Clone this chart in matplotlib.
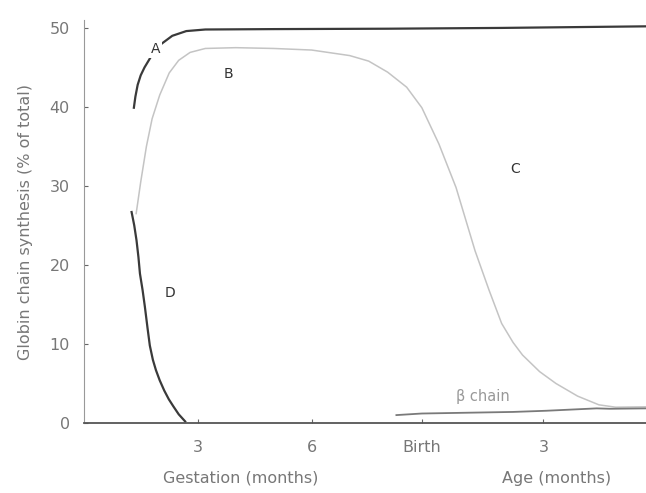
import matplotlib.pyplot as plt

# curve A (dark, top)
a_x = [1.32, 1.36, 1.42, 1.5, 1.6, 1.8, 2.05, 2.33, 2.7, 3.2, 5.0, 8.0, 11.0, 14.8]
a_y = [39.9, 41.3, 42.8, 44.0, 45.0, 46.6, 48.0, 49.0, 49.6, 49.8, 49.85, 49.9, 50.0, 50.2]

# curve B / C (light grey)
b_x = [1.38, 1.5, 1.65, 1.8, 2.0, 2.25, 2.5, 2.8, 3.2, 4.0, 5.0, 6.0, 7.0, 7.5, 8.0,
       8.5, 8.9, 9.35, 9.8, 10.3, 10.67, 11.0, 11.3, 11.55, 12.0, 12.43, 13.0, 13.56, 14.0, 14.8]
b_y = [26.5, 30.5, 35.0, 38.5, 41.5, 44.3, 45.9, 46.9, 47.4, 47.5, 47.4, 47.2, 46.5, 45.8, 44.4,
       42.5, 39.9, 35.3, 29.8, 21.8, 16.8, 12.6, 10.2, 8.6, 6.5, 5.0, 3.4, 2.3, 2.0, 2.05]

# curve D (dark, falling)
d_x = [1.26, 1.33, 1.39, 1.44, 1.48, 1.55, 1.61, 1.68, 1.74, 1.82, 1.9, 2.0, 2.12, 2.24, 2.36, 2.5, 2.67]
d_y = [26.7, 25.0, 23.1, 21.0, 18.9, 16.8, 14.7, 12.0, 9.8, 8.0, 6.7, 5.4, 4.1, 3.0, 2.1, 1.1, 0.2]

# beta chain
beta_x = [8.23, 8.9, 11.3, 12.18, 13.5, 13.85, 14.8]
beta_y = [1.0, 1.2, 1.4, 1.55, 1.85, 1.8, 1.85]

tick_pos = [3, 6, 8.9, 12.1]
tick_lab = ['3', '6', 'Birth', '3']

txt = '#777777'
plt.rcParams['font.family'] = 'DejaVu Sans'

fig = plt.figure(figsize=(6.46, 4.93), dpi=100)
ax = fig.add_axes([0.1296, 0.142, 0.8704, 0.8174])

ax.plot(a_x, a_y, color='#3a3a3a', lw=1.6)
ax.plot(b_x, b_y, color='#c4c4c4', lw=1.1)
ax.plot(d_x, d_y, color='#3a3a3a', lw=1.6)
ax.plot(beta_x, beta_y, color='#7a7a7a', lw=1.3)

ax.text(1.88, 47.3, 'A', color='#333333', fontsize=10, ha='center', va='center',
        bbox=dict(facecolor='white', edgecolor='none', pad=1.5), zorder=5)
ax.text(3.8, 44.2, 'B', color='#333333', fontsize=10, ha='center', va='center')
ax.text(11.35, 32.2, 'C', color='#333333', fontsize=10, ha='center', va='center')
ax.text(2.27, 16.4, 'D', color='#333333', fontsize=10, ha='center', va='center')
ax.text(10.5, 3.3, 'β chain', color='#999999', fontsize=10.5, ha='center', va='center')

ax.set_xlim(0, 14.8)
ax.set_ylim(0, 51)
for s in ['top', 'right']:
    ax.spines[s].set_visible(False)
ax.spines['left'].set_color('#999999')
ax.spines['bottom'].set_color('#555555')
ax.spines['bottom'].set_linewidth(1.3)

ax.set_yticks([0, 10, 20, 30, 40, 50])
ax.set_xticks(tick_pos)
ax.set_xticklabels(tick_lab)
ax.tick_params(axis='both', colors='#666666', labelcolor=txt, labelsize=11.5,
               direction='in', length=3)
ax.tick_params(axis='x', pad=12)
ax.tick_params(axis='y', pad=10)

ax.set_ylabel('Globin chain synthesis (% of total)', color=txt, fontsize=11.5, labelpad=12)
fig.text(0.372, 0.03, 'Gestation (months)', color=txt, fontsize=11.5, ha='center', va='center')
fig.text(0.862, 0.03, 'Age (months)', color=txt, fontsize=11.5, ha='center', va='center')

fig.savefig('out.png', dpi=100)
